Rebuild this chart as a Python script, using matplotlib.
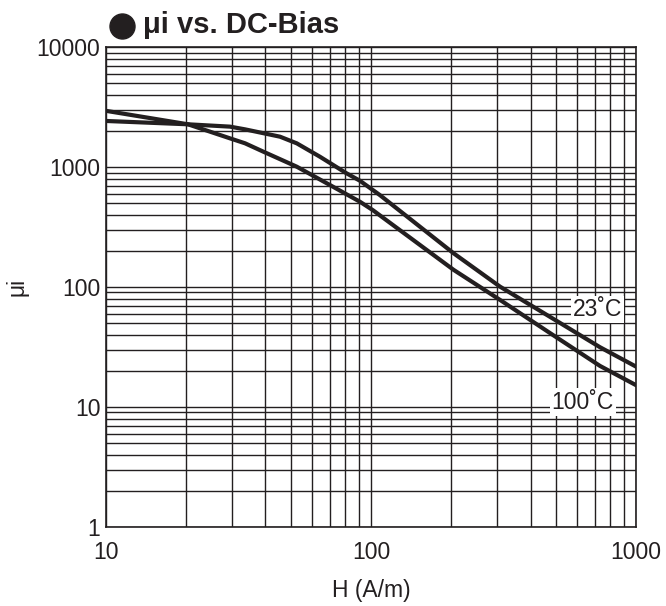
import matplotlib.pyplot as plt
from matplotlib.lines import Line2D
from matplotlib.ticker import LogLocator, FixedLocator, NullFormatter

plt.rcParams['font.family'] = ['Liberation Sans', 'DejaVu Sans']

# H (A/m)
h_23 = [10, 20.4, 29.4, 33.5, 45.4, 52.5, 64.2, 80.9, 90.8, 108, 205, 307, 473, 731, 1000]
mu_23 = [2420, 2270, 2170, 2060, 1789, 1575, 1218, 886, 769, 584, 191, 100.6, 56.5, 31.5, 21.7]

h_100 = [10, 20.4, 29.4, 33.5, 39.3, 52.5, 70, 90.8, 101.5, 205, 307, 473, 731, 1000]
mu_100 = [2940, 2270, 1733, 1576, 1341, 1006, 708, 514, 438, 139, 78, 41.4, 22.0, 15.2]

NEGRO = '#231f20'


def graficar():
    fig = plt.figure(figsize=(6.66, 6.06), dpi=100)
    ax = fig.add_axes([0.159, 0.1304, 0.796, 0.792])

    ax.plot(h_23, mu_23, color=NEGRO, linewidth=3, zorder=3)
    ax.plot(h_100, mu_100, color=NEGRO, linewidth=3, zorder=3)

    ax.set_xscale('log')
    ax.set_yscale('log')
    ax.set_xlim(10, 1000)
    ax.set_ylim(1, 10000)

    ax.xaxis.set_major_locator(FixedLocator([10, 100, 1000]))
    ax.yaxis.set_major_locator(FixedLocator([1, 10, 100, 1000, 10000]))
    ax.xaxis.set_major_formatter(plt.FuncFormatter(lambda v, p: f'{v:g}'))
    ax.yaxis.set_major_formatter(plt.FuncFormatter(lambda v, p: f'{v:g}'))
    ax.xaxis.set_minor_locator(LogLocator(base=10, subs=range(2, 10)))
    ax.yaxis.set_minor_locator(LogLocator(base=10, subs=range(2, 10)))
    ax.xaxis.set_minor_formatter(NullFormatter())
    ax.yaxis.set_minor_formatter(NullFormatter())

    ax.grid(True, which='both', color=NEGRO, linewidth=1.0)
    ax.tick_params(which='both', length=0, labelsize=16.5, colors=NEGRO)
    ax.tick_params(axis='x', pad=10)
    ax.tick_params(axis='y', pad=4)
    for s in ax.spines.values():
        s.set_color(NEGRO)
        s.set_linewidth(1.2)

    ax.set_xlabel('H (A/m)', fontsize=16.5, color=NEGRO, labelpad=11)
    ax.set_ylabel('μi', fontsize=16.5, color=NEGRO, labelpad=6)

    caja = dict(facecolor='white', edgecolor='none', pad=1.5)
    ax.text(715, 65, '23˚C', fontsize=16.5, ha='center', va='center', color=NEGRO,
            bbox=caja, zorder=4)
    ax.text(630, 11, '100˚C', fontsize=16.5, ha='center', va='center', color=NEGRO,
            bbox=caja, zorder=4)

    fig.add_artist(Line2D([122 / 666], [1 - 26 / 606], marker='o', markersize=18,
                          color=NEGRO, transform=fig.transFigure))
    fig.text(0.2147, 0.9587, 'μi vs. DC-Bias', fontsize=21, fontweight='bold',
             ha='left', va='center', color=NEGRO)

    fig.savefig('out.png', dpi=100)


if __name__ == "__main__":
    graficar()
